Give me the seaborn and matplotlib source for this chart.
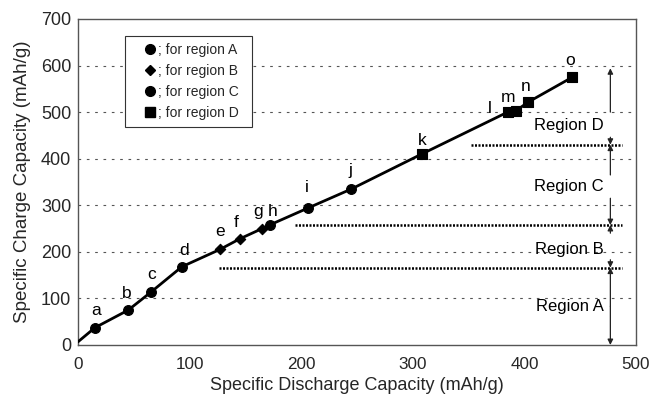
import matplotlib
matplotlib.use("Agg")
import matplotlib.pyplot as plt
from matplotlib.lines import Line2D
from matplotlib.ticker import MultipleLocator
import pandas as pd
import seaborn as sns

# Charge/discharge capacity at each state point
point_labels = list("abcdefghijklmno")
discharge = [15, 45, 65, 93, 127, 145, 165, 172, 206, 245, 308, 385, 392, 403, 443]
charge = [37, 75, 113, 168, 205, 228, 250, 258, 294, 335, 410, 500, 502, 521, 575]
regions = ["A", "A", "A", "A", "B", "B", "B", "C", "C", "C", "D", "D", "D", "D", "D"]
origin_charge = 7

# Region boundaries (charge capacity) and their dotted-line extents
boundaries = [166, 257.5, 430]
boundary_starts = [126, 194, 352]
boundary_end = 487
region_names = ["Region A", "Region B", "Region C", "Region D"]
region_text_y = [82, 206, 340, 472]
# (tail, head) pairs of the arrows for each region
region_arrows = [
    [(83, 166), (83, 0)],
    [(240, 257.5), (183, 166)],
    [(365, 430), (315, 257.5)],
    [(500, 594), (446, 430)],
]

# Letter label offsets from each point (data units)
label_dx = [1, -1.5, 1, 2, 0, -3, -3.5, 2, -1, -1, 0, -16, -7, -2, -2]
label_dy = [38, 36, 39, 34, 38, 34, 36, 29.5, 43.5, 40.5, 30, 8, 29.5, 33, 36.6]

sns.set_theme(style="white")
plt.rcParams["font.family"] = ["Liberation Sans", "DejaVu Sans"]

df = pd.DataFrame({"discharge": discharge, "charge": charge, "region": regions})
curve = pd.DataFrame({"discharge": [0] + discharge, "charge": [origin_charge] + charge})

fig = plt.figure(figsize=(6.51, 4.03), dpi=100)
ax = fig.add_axes([0.120, 0.144, 0.857, 0.809])

# Horizontal dashed grid
for yv in range(100, 700, 100):
    ln = ax.axhline(yv, color="#555555", lw=0.8, zorder=0)
    ln.set_dashes((2.4, 5.1))

sns.lineplot(data=curve, x="discharge", y="charge", color="black", lw=2.0,
             sort=False, ax=ax, zorder=3)

markers = {"A": "o", "B": "D", "C": "o", "D": "s"}
sizes = {"A": 50, "B": 28, "C": 50, "D": 45}
for reg in ["A", "B", "C", "D"]:
    sub = df[df["region"] == reg]
    sns.scatterplot(data=sub, x="discharge", y="charge", marker=markers[reg],
                    s=sizes[reg], color="black", edgecolor="black", linewidth=0.8,
                    ax=ax, zorder=4, legend=False)

for lab, xv, yv, dx, dy in zip(point_labels, discharge, charge, label_dx, label_dy):
    ax.text(xv + dx, yv + dy, lab, ha="center", va="center", fontsize=12.5, color="black")

# Region boundaries
for yb, xs in zip(boundaries, boundary_starts):
    ax.plot([xs, boundary_end], [yb, yb], color="black", lw=1.8,
            linestyle=(0, (0.8, 0.6)), zorder=2)

arrow_x = 477
for name, ty, arrows in zip(region_names, region_text_y, region_arrows):
    ax.text(471, ty, name, ha="right", va="center", fontsize=12, color="black")
    for tail, head in arrows:
        ax.annotate("", xy=(arrow_x, head), xytext=(arrow_x, tail),
                    arrowprops=dict(arrowstyle="-|>", color="#222222", lw=0.9,
                                    mutation_scale=8, shrinkA=0, shrinkB=0))

ax.set_xlim(0, 500)
ax.set_ylim(0, 700)
ax.xaxis.set_major_locator(MultipleLocator(100))
ax.xaxis.set_minor_locator(MultipleLocator(50))
ax.yaxis.set_major_locator(MultipleLocator(100))
ax.tick_params(axis="x", which="both", direction="in", length=4, width=1,
               color="#444444", labelsize=12.3, pad=9)
ax.tick_params(axis="y", length=0, labelsize=13, pad=5)
ax.set_xlabel("Specific Discharge Capacity (mAh/g)", fontsize=13, labelpad=3)
ax.set_ylabel("Specific Charge Capacity (mAh/g)", fontsize=13.5, labelpad=7)
for sp in ax.spines.values():
    sp.set_color("#555555")
    sp.set_linewidth(1.0)

handles = [
    Line2D([], [], marker="o", linestyle="none", color="black", markersize=7),
    Line2D([], [], marker="D", linestyle="none", color="black", markersize=5),
    Line2D([], [], marker="o", linestyle="none", color="black", markersize=7),
    Line2D([], [], marker="s", linestyle="none", color="black", markersize=6.5),
]
leg = ax.legend(handles, ["; for region A", "; for region B", "; for region C", "; for region D"],
                loc="upper left", bbox_to_anchor=(0.084, 0.690, 0.227, 0.258),
                mode="expand", fontsize=10,
                frameon=True, fancybox=False, handlelength=2.6, handletextpad=-0.7,
                borderpad=0.5, labelspacing=0.5, borderaxespad=0)
leg.get_frame().set_edgecolor("#333333")
leg.get_frame().set_linewidth(0.8)
leg.get_frame().set_alpha(1)

fig.savefig("out.png", dpi=100)
